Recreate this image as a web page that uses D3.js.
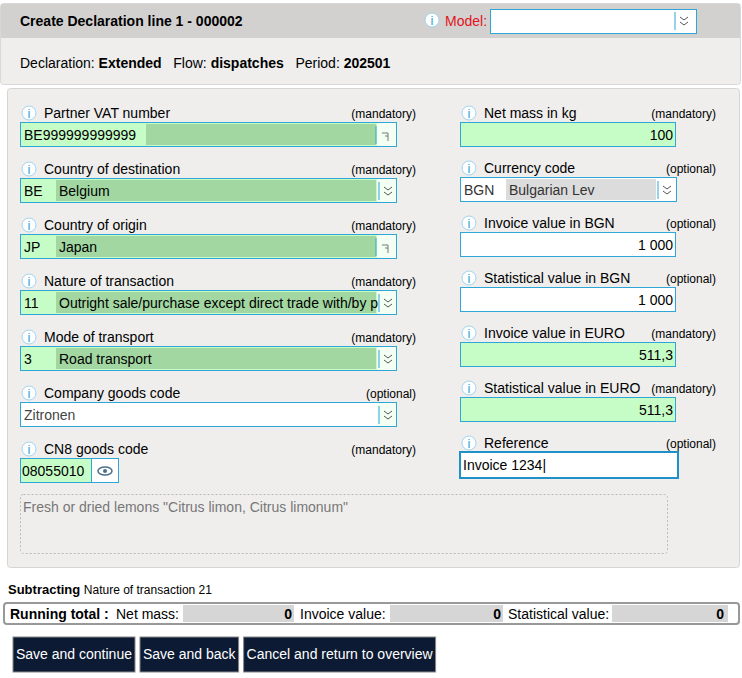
<!DOCTYPE html>
<html><head><meta charset="utf-8">
<script src="https://cdn.jsdelivr.net/npm/d3@7"></script>
<style>body{margin:0;background:#fff}text{font-family:"Liberation Sans",Arial,sans-serif}</style>
</head><body><svg id="c" width="742" height="678"></svg>
<script>
const leftLabels=["Partner VAT number","Country of destination","Country of origin","Nature of transaction","Mode of transport","Company goods code","CN8 goods code"];
const leftReq=["(mandatory)","(mandatory)","(mandatory)","(mandatory)","(mandatory)","(optional)","(mandatory)"];
const leftCodes=["BE999999999999","BE","JP","11","3","Zitronen","08055010"];
const leftDesc=["","Belgium","Japan","Outright sale/purchase except direct trade with/by p","Road transport","",""];
const leftIcon=["link","drop","link","drop","drop","drop","eye"];
const rightLabels=["Net mass in kg","Currency code","Invoice value in BGN","Statistical value in BGN","Invoice value in EURO","Statistical value in EURO","Reference"];
const rightReq=["(mandatory)","(optional)","(optional)","(optional)","(mandatory)","(mandatory)","(optional)"];
const rightVals=["100","BGN","1 000","1 000","511,3","511,3","Invoice 1234"];
const rightKind=["green","currency","white","white","green","green","ref"];
const totalLabels=["Net mass:","Invoice value:","Statistical value:"];
const totalVals=[0,0,0];
const buttons=["Save and continue","Save and back","Cancel and return to overview"];

const svg=d3.select("#c");
const BLUE="#2ea6d6",LG="#c6fdc6",DG="#a2d7a2";
svg.append("rect").attr("x",0.5).attr("y",3.5).attr("width",740).attr("height",81).attr("rx",3).attr("fill","#efeeed").attr("stroke","#d8d8d8");
svg.append("rect").attr("x",1).attr("y",4).attr("width",739).attr("height",34).attr("fill","#d3d1cf");
svg.append("text").attr("x",20).attr("y",26).attr("font-size",14).attr("font-weight","bold").text("Create Declaration line 1 - 000002");
function info(x,y){const g=svg.append("g");g.append("circle").attr("cx",x).attr("cy",y).attr("r",7).attr("fill","#fff").attr("stroke","#9fd3ee");g.append("text").attr("x",x).attr("y",y+5).attr("text-anchor","middle").attr("font-size",13).attr("fill","#2ea6d6").text("i");}
info(432,20);
svg.append("text").attr("x",445).attr("y",26).attr("font-size",14).attr("fill","#e0141e").text("Model:");
svg.append("rect").attr("x",490.5).attr("y",9.5).attr("width",206).attr("height",24).attr("fill","#fff").attr("stroke",BLUE);
function chevron(x,y){svg.append("line").attr("x1",x-2).attr("x2",x-2).attr("y1",y-9).attr("y2",y+9).attr("stroke",BLUE);
 [-3,2].forEach(d=>svg.append("path").attr("d",`M${x+3},${y+d-1}l4,3l4,-3`).attr("fill","none").attr("stroke","#555"));}
chevron(677,21);
const t=svg.append("text").attr("x",20).attr("y",68).attr("font-size",14).attr("style","white-space:pre");
[["Declaration: ",0],["Extended",1],["   Flow: ",0],["dispatches",1],["   Period: ",0],["202501",1]].forEach(([s,b])=>t.append("tspan").attr("font-weight",b?"bold":"normal").text(s));
svg.append("rect").attr("x",7.5).attr("y",88.5).attr("width",732).attr("height",479).attr("rx",3).attr("fill","#efeeed").attr("stroke","#d5d5d5");
const yL=d3.scaleLinear().domain([0,1]).range([113,169]);
const yR=d3.scaleLinear().domain([0,1]).range([113,168]);
leftLabels.forEach((l,i)=>{
 const ly=yL(i);info(29,ly);
 svg.append("text").attr("x",44).attr("y",ly+5).attr("font-size",14).text(l);
 svg.append("text").attr("x",416).attr("y",ly+5).attr("font-size",12).attr("text-anchor","end").text(leftReq[i]);
 const by=ly+9;
 if(leftIcon[i]==="eye"){
  svg.append("rect").attr("x",20.5).attr("y",by+.5).attr("width",71).attr("height",24).attr("fill",LG).attr("stroke",BLUE);
  svg.append("rect").attr("x",91.5).attr("y",by+.5).attr("width",27).attr("height",24).attr("fill","#fff").attr("stroke",BLUE);
  svg.append("ellipse").attr("cx",105).attr("cy",by+13).attr("rx",7).attr("ry",4).attr("fill","none").attr("stroke","#4a6f8a").attr("stroke-width",1.5);
  svg.append("circle").attr("cx",105).attr("cy",by+13).attr("r",2).attr("fill","#4a6f8a");
  svg.append("text").attr("x",22).attr("y",by+18).attr("font-size",14).text(leftCodes[i]);
  return;}
 const white=leftCodes[i]==="Zitronen";
 svg.append("rect").attr("x",20.5).attr("y",by+.5).attr("width",376).attr("height",24).attr("fill",white?"#fff":LG).attr("stroke",BLUE);
 svg.append("rect").attr("x",377).attr("y",by+1).attr("width",19).attr("height",23).attr("fill","#f4fff4");
 if(!white){const x0=leftDesc[i]?56:146;svg.append("rect").attr("x",x0).attr("y",by+2).attr("width",376-x0).attr("height",21).attr("fill",DG);}
 if(leftIcon[i]==="drop")chevron(381,by+13);
 else{svg.append("line").attr("x1",376).attr("x2",376).attr("y1",by+4).attr("y2",by+22).attr("stroke",BLUE);
  svg.append("path").attr("d",`M382,${by+11}h6v8M385,${by+14}h3`).attr("fill","none").attr("stroke","#777");}
 svg.append("text").attr("x",24).attr("y",by+18).attr("font-size",14).attr("fill",white?"#444":"#000").text(leftCodes[i]);
 if(leftDesc[i])svg.append("text").attr("x",59).attr("y",by+18).attr("font-size",14).text(leftDesc[i]);
});
rightLabels.forEach((l,i)=>{
 const ly=yR(i);info(469,ly);
 svg.append("text").attr("x",484).attr("y",ly+5).attr("font-size",14).text(l);
 svg.append("text").attr("x",716).attr("y",ly+5).attr("font-size",12).attr("text-anchor","end").text(rightReq[i]);
 const by=ly+9,k=rightKind[i];
 if(k==="currency"){
  svg.append("rect").attr("x",460.5).attr("y",by+.5).attr("width",216).attr("height",24).attr("fill","#fff").attr("stroke",BLUE);
  svg.append("rect").attr("x",506).attr("y",by+2).attr("width",150).attr("height",21).attr("fill","#dcdcdc");
  chevron(660,by+13);
  svg.append("text").attr("x",464).attr("y",by+18).attr("font-size",14).attr("fill","#333").text(rightVals[i]);
  svg.append("text").attr("x",509).attr("y",by+18).attr("font-size",14).attr("fill","#333").text("Bulgarian Lev");
 }else if(k==="ref"){
  svg.append("rect").attr("x",460).attr("y",by).attr("width",218).attr("height",26).attr("fill","#fff").attr("stroke","#2090c8").attr("stroke-width",2);
  svg.append("text").attr("x",463).attr("y",by+18).attr("font-size",14).text(rightVals[i]+"|");
 }else{
  svg.append("rect").attr("x",460.5).attr("y",by+.5).attr("width",215).attr("height",24).attr("fill",k==="green"?LG:"#fff").attr("stroke",BLUE);
  svg.append("text").attr("x",673).attr("y",by+18).attr("font-size",14).attr("text-anchor","end").text(rightVals[i]);
 }
});
svg.append("rect").attr("x",20.5).attr("y",494.5).attr("width",647).attr("height",59).attr("rx",3).attr("fill","none").attr("stroke","#bbb").attr("stroke-dasharray","2,2");
svg.append("text").attr("x",23).attr("y",512).attr("font-size",14).attr("fill","#777").text('Fresh or dried lemons "Citrus limon, Citrus limonum"');
const s=svg.append("text").attr("x",8).attr("y",594);
s.append("tspan").attr("font-weight","bold").attr("font-size",13).text("Subtracting ");
s.append("tspan").attr("font-size",12).text("Nature of transaction 21");
svg.append("rect").attr("x",4).attr("y",603).attr("width",735).attr("height",21).attr("rx",3).attr("fill","#fff").attr("stroke","#999").attr("stroke-width",2);
svg.append("text").attr("x",10).attr("y",619).attr("font-size",14).attr("font-weight","bold").text("Running total :");
const tx=d3.scaleLinear().domain([0,1]).range([116,300]);
totalLabels.forEach((l,i)=>{
 const x=tx(i)+(i===2?24:0),bx=[183,390,612][i],ex=[296,505,728][i];
 svg.append("text").attr("x",x).attr("y",619).attr("font-size",14).text(l);
 svg.append("rect").attr("x",bx).attr("y",605).attr("width",ex-bx-(i==2?0:2)).attr("height",17).attr("fill","#d6d6d6");
 svg.append("text").attr("x",ex-4).attr("y",619).attr("font-size",14).attr("font-weight","bold").attr("text-anchor","end").text(totalVals[i]);
});
let bx=13;
buttons.forEach(b=>{
 const tmp=svg.append("text").attr("font-size",14).text(b);const w=tmp.node().getComputedTextLength()+6;tmp.remove();
 svg.append("rect").attr("x",bx).attr("y",637).attr("width",w).attr("height",35).attr("fill","#0c1a33").attr("stroke","#888");
 svg.append("text").attr("x",bx+w/2).attr("y",659).attr("font-size",14).attr("fill","#fff").attr("text-anchor","middle").text(b);
 bx+=w+5;
});
</script></body></html>
